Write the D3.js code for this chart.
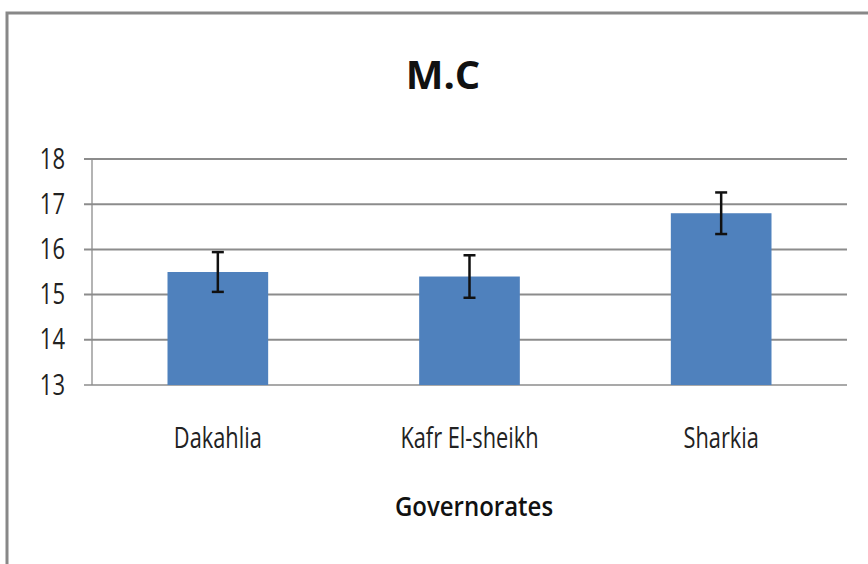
<!DOCTYPE html>
<meta charset="utf-8">
<script src="https://d3js.org/d3.v7.min.js"></script>
<style>
  body { margin: 0; background: #fff; }
  text { font-family: "Open Sans", sans-serif; }
</style>

<svg id="chart" width="868" height="564"></svg>

<script>
    // chart values
    var categories = ["Dakahlia", "Kafr El-sheikh", "Sharkia"];
    var means = [15.5, 15.4, 16.8];
    var errors = [0.44, 0.47, 0.46];
    var yTicks = [13, 14, 15, 16, 17, 18];
    var title = "M.C";
    var xTitle = "Governorates";

    var data = categories.map((c, i) => ({ name: c, value: means[i], err: errors[i] }));

    var svg = d3.select("#chart");

    // outer frame
    svg.append("rect")
        .attr("x", 7).attr("y", 13)
        .attr("width", 880).attr("height", 580)
        .attr("fill", "none")
        .attr("stroke", "#888")
        .attr("stroke-width", 3);

    var margin = { top: 159, left: 92, right: 21, bottom: 179 },
        width = 868 - margin.left - margin.right,
        height = 564 - margin.top - margin.bottom;

    var x = d3.scaleBand()
        .domain(categories)
        .range([0, width])
        .paddingInner(0.6)
        .paddingOuter(0.3);

    var y = d3.scaleLinear()
        .domain([13, 18])
        .range([height, 0]);

    var g = svg.append("g")
        .attr("transform", "translate(" + margin.left + "," + margin.top + ")");

    // gridlines
    g.selectAll(".grid")
        .data(yTicks)
        .enter().append("line")
        .attr("x1", -8).attr("x2", width)
        .attr("y1", d => y(d)).attr("y2", d => y(d))
        .attr("stroke", "#8c8c8c")
        .attr("stroke-width", d => d === 13 ? 1.5 : 2);

    // y axis line
    g.append("line")
        .attr("x1", 0).attr("x2", 0)
        .attr("y1", 0).attr("y2", height)
        .attr("stroke", "#8c8c8c")
        .attr("stroke-width", 1.3);

    // y tick labels (tall narrow look of the original font)
    g.selectAll(".ylab")
        .data(yTicks)
        .enter().append("text")
        .attr("transform", d => "translate(-27," + (y(d) + 9.5) + ") scale(1,1.35)")
        .attr("text-anchor", "end")
        .attr("font-size", 22)
        .attr("fill", "#222")
        .text(d => d);

    // bars
    g.selectAll(".bar")
        .data(data)
        .enter().append("rect")
        .attr("x", d => x(d.name))
        .attr("width", x.bandwidth())
        .attr("y", d => y(d.value))
        .attr("height", d => height - y(d.value))
        .attr("fill", "#4f81bd");

    // error bars
    var eb = g.selectAll(".err")
        .data(data)
        .enter().append("g")
        .attr("stroke", "#111")
        .attr("stroke-width", 2.5);
    eb.append("line")
        .attr("x1", d => x(d.name) + x.bandwidth() / 2)
        .attr("x2", d => x(d.name) + x.bandwidth() / 2)
        .attr("y1", d => y(d.value + d.err))
        .attr("y2", d => y(d.value - d.err));
    eb.append("line")
        .attr("x1", d => x(d.name) + x.bandwidth() / 2 - 6)
        .attr("x2", d => x(d.name) + x.bandwidth() / 2 + 6)
        .attr("y1", d => y(d.value + d.err))
        .attr("y2", d => y(d.value + d.err));
    eb.append("line")
        .attr("x1", d => x(d.name) + x.bandwidth() / 2 - 6)
        .attr("x2", d => x(d.name) + x.bandwidth() / 2 + 6)
        .attr("y1", d => y(d.value - d.err))
        .attr("y2", d => y(d.value - d.err));

    // category labels
    g.selectAll(".xlab")
        .data(categories)
        .enter().append("text")
        .attr("transform", d => "translate(" + (x(d) + x.bandwidth() / 2) + "," + (height + 63) + ") scale(1,1.3)")
        .attr("text-anchor", "middle")
        .attr("font-size", 21.8)
        .attr("fill", "#222")
        .text(d => d);

    // axis title
    svg.append("text")
        .attr("transform", "translate(474,516) scale(1,1.15)")
        .attr("text-anchor", "middle")
        .attr("font-size", 24)
        .attr("font-weight", 600)
        .attr("fill", "#111")
        .text(xTitle);

    // chart title
    svg.append("text")
        .attr("x", 443)
        .attr("y", 89)
        .attr("text-anchor", "middle")
        .attr("font-size", 40)
        .attr("font-weight", 700)
        .attr("fill", "#111")
        .text(title);
</script>
